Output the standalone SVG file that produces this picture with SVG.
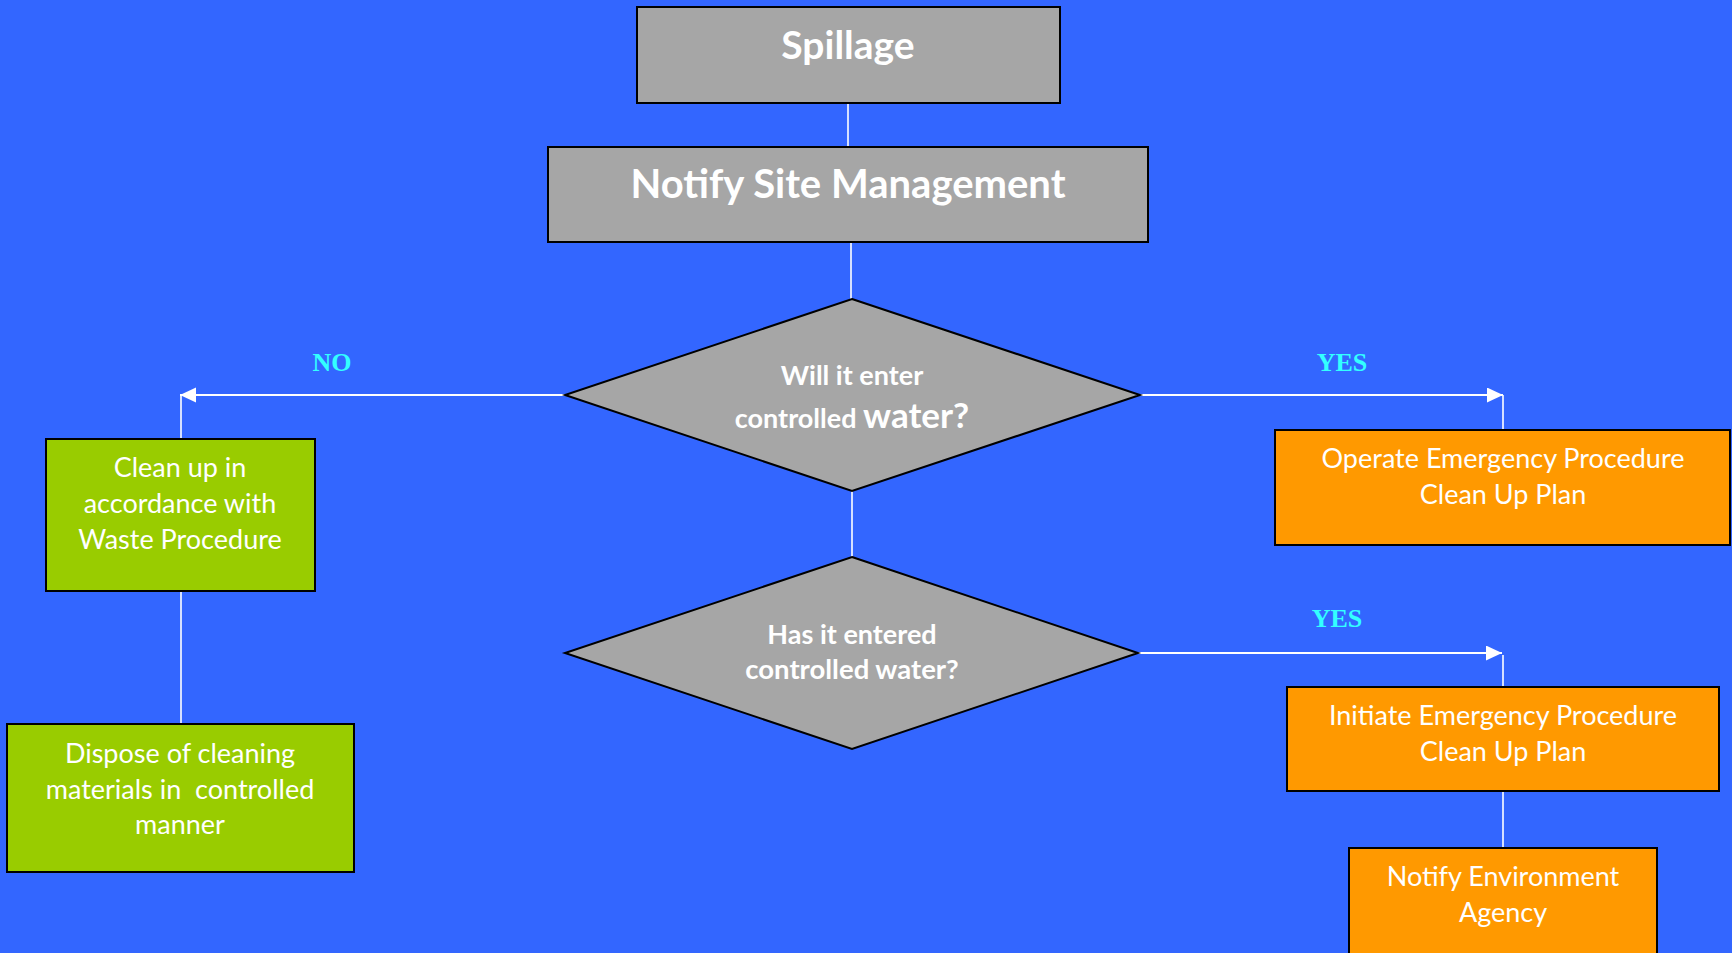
<svg xmlns="http://www.w3.org/2000/svg" width="1732" height="953" viewBox="0 0 1732 953">
  <style>
    .box{stroke:#000;stroke-width:2}
    .grey{fill:#A6A6A6}
    .green{fill:#99CC00}
    .orange{fill:#FF9900}
    .t{font-family:Lato,"Liberation Sans",sans-serif;fill:#fff;text-anchor:middle;font-size:27px}
    .b{font-weight:700}
    .lbl{font-family:"Liberation Serif",serif;font-weight:700;font-size:26px;fill:#33FFFF;text-anchor:middle}
    .wire{stroke:#fff;stroke-width:1.6;fill:none}
    .arrow{stroke:#fff;stroke-width:2.2;fill:none;marker-end:url(#head)}
  </style>
  <defs>
    <marker id="head" markerUnits="userSpaceOnUse" markerWidth="17" markerHeight="16" refX="16" refY="7.5" orient="auto">
      <path d="M0,0 L16,7.5 L0,15 Z" fill="#fff"/>
    </marker>
  </defs>

  <rect width="1732" height="953" fill="#3366FF"/>

  <g id="connectors">
    <line class="wire" x1="848" y1="103" x2="848" y2="147"/>
    <line class="wire" x1="851" y1="242" x2="851" y2="299"/>
    <line class="wire" x1="852" y1="491" x2="852" y2="557"/>
    <line class="arrow" x1="565" y1="395" x2="180" y2="395"/>
    <line class="wire" x1="181" y1="395" x2="181" y2="439"/>
    <line class="wire" x1="181" y1="591" x2="181" y2="724"/>
    <line class="arrow" x1="1140" y1="395" x2="1503" y2="395"/>
    <line class="wire" x1="1503" y1="395" x2="1503" y2="430"/>
    <line class="arrow" x1="1138" y1="653" x2="1502" y2="653"/>
    <line class="wire" x1="1503" y1="655" x2="1503" y2="687"/>
    <line class="wire" x1="1503" y1="791" x2="1503" y2="848"/>
    <text class="lbl" x="332" y="371">NO</text>
    <text class="lbl" x="1342" y="371">YES</text>
    <text class="lbl" x="1337" y="627">YES</text>
  </g>

  <g id="spillage">
    <rect class="box grey" x="637" y="7" width="423" height="96"/>
    <text class="t b" x="848" y="59" style="font-size:39px">Spillage</text>
  </g>

  <g id="notify-site">
    <rect class="box grey" x="548" y="147" width="600" height="95"/>
    <text class="t b" x="848" y="198" style="font-size:40px">Notify Site Management</text>
  </g>

  <g id="will-enter">
    <polygon class="box grey" points="852,299 1140,395 852,491 565,395"/>
    <text class="t b" x="852" y="385">Will it enter</text>
    <text class="t b" x="852" y="428">controlled <tspan style="font-size:35px">water?</tspan></text>
  </g>

  <g id="has-entered">
    <polygon class="box grey" points="852,557 1138,653 852,749 565,653"/>
    <text class="t b" x="852" y="644">Has it entered</text>
    <text class="t b" x="852" y="679" style="font-size:27.5px">controlled water?</text>
  </g>

  <g id="clean-up">
    <rect class="box green" x="46" y="439" width="269" height="152"/>
    <text class="t" x="180" y="477">Clean up in</text>
    <text class="t" x="180" y="513">accordance with</text>
    <text class="t" x="180" y="549">Waste Procedure</text>
  </g>

  <g id="dispose">
    <rect class="box green" x="7" y="724" width="347" height="148"/>
    <text class="t" x="180" y="763">Dispose of cleaning</text>
    <text class="t" x="180" y="799" xml:space="preserve">materials in  controlled</text>
    <text class="t" x="180" y="834">manner</text>
  </g>

  <g id="operate">
    <rect class="box orange" x="1275" y="430" width="455" height="115"/>
    <text class="t" x="1503" y="468">Operate Emergency Procedure</text>
    <text class="t" x="1503" y="504">Clean Up Plan</text>
  </g>

  <g id="initiate">
    <rect class="box orange" x="1287" y="687" width="432" height="104"/>
    <text class="t" x="1503" y="725">Initiate Emergency Procedure</text>
    <text class="t" x="1503" y="761">Clean Up Plan</text>
  </g>

  <g id="notify-agency">
    <rect class="box orange" x="1349" y="848" width="308" height="120"/>
    <text class="t" x="1503" y="886">Notify Environment</text>
    <text class="t" x="1503" y="922">Agency</text>
  </g>
</svg>
